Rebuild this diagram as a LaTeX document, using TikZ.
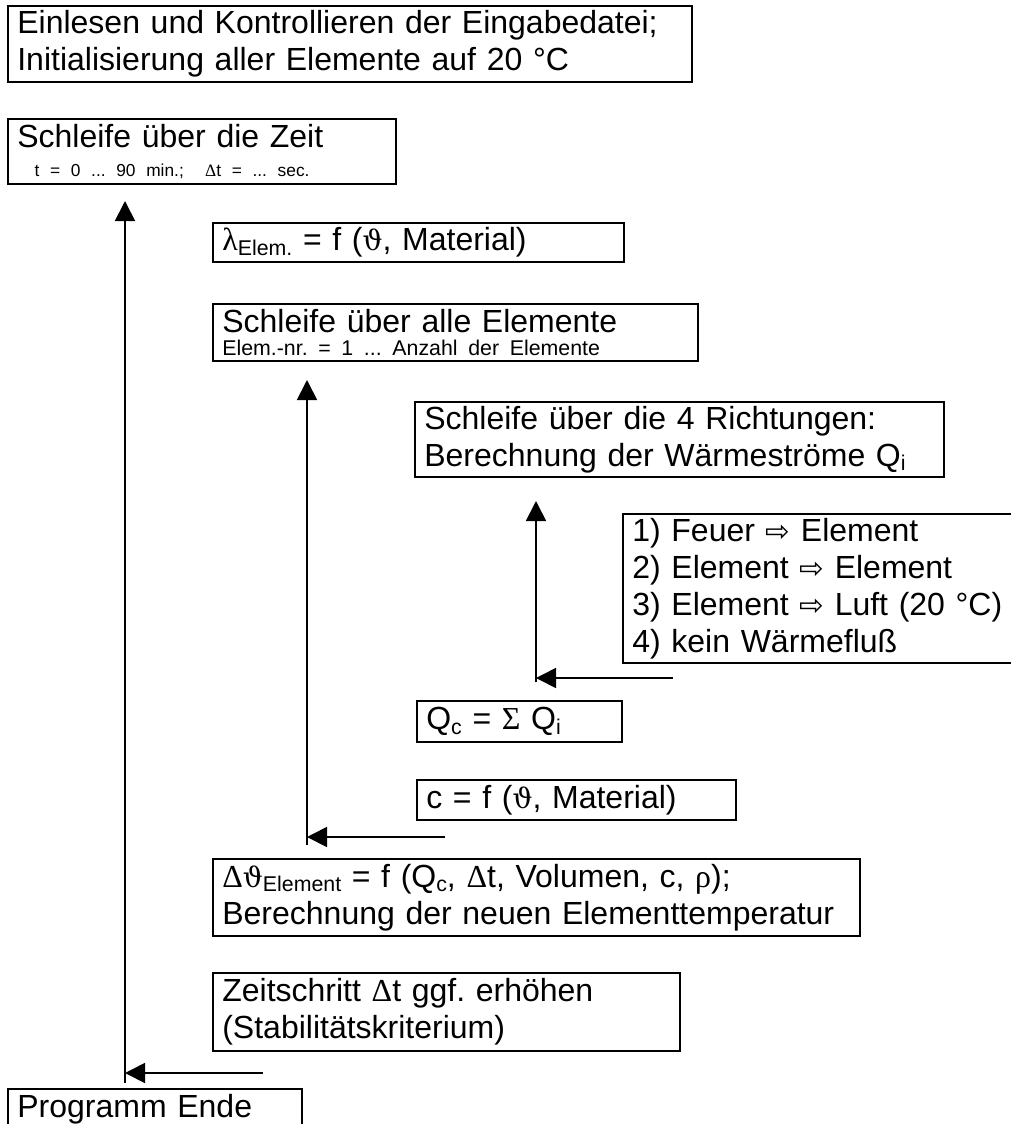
\documentclass[tikz,border=0pt]{standalone}
\usepackage{fontspec}
\setmainfont{Liberation Sans}
\newfontfamily\grfont{Liberation Serif}
\newfontfamily\thfont{DejaVu Serif}
\newfontfamily\arrfont{DejaVu Sans}
\usetikzlibrary{arrows.meta}
\frenchspacing
\newcommand\gk[1]{{\grfont #1}}
\newcommand\vth{{\thfont\fontsize{21}{21}\selectfont ϑ}}
\newcommand\wa{{\arrfont\fontsize{22}{22}\selectfont ⇨}}
\newcommand\lowtxt[1]{\raisebox{-0.14em}{\fontsize{16}{16}\selectfont #1}}
\newcommand\smalltxt{\fontsize{13}{16}\selectfont}
\newcommand\smallertxt{\fontsize{16}{18}\selectfont}
\begin{document}
\begin{tikzpicture}[x=0.75pt,y=-0.75pt,
  box/.style={draw, line width=1.3pt, anchor=north west, outer sep=0pt,
    inner xsep=7pt, inner ysep=0pt, align=left,
    font=\fontsize{24}{27.75}\selectfont\frenchspacing},
  arr/.style={line width=1.3pt, -{Triangle[length=15pt,width=15pt]}}]
\useasboundingbox (0,0) rectangle (1010,1124);

\node[box, text width=499pt, minimum height=57pt] (init) at (8,6)
  {Einlesen und Kontrollieren der Eingabedatei;\\Initialisierung aller Elemente auf 20 °C};
\node[box, text width=277pt, minimum height=48.75pt] (zeit) at (8,119)
  {Schleife über die Zeit\\[-6.5pt]{\smalltxt\hspace*{13pt}t = 0 ... 90 min.;\ \ \gk{Δ}t = ... sec.}};
\node[box, text width=294.25pt, minimum height=29.25pt] (lam) at (213,223)
  {\gk{λ}\lowtxt{Elem.} = f (\vth, Material)};
\node[box, text width=349.75pt, minimum height=42.75pt] (elem) at (213,304)
  {Schleife über alle Elemente\\[-10pt]{\smallertxt Elem.-nr. = 1 ... Anzahl der Elemente}};
\node[box, text width=382.75pt, minimum height=56.25pt] (dirs) at (415,402)
  {Schleife über die 4 Richtungen:\\Berechnung der Wärmeströme Q\lowtxt{i}};
\node[box, text width=301pt, minimum height=111.75pt] (list) at (623,514)
  {1) Feuer \wa{} Element\\2) Element \wa{} Element\\3) Element \wa{} Luft (20 °C)\\4) kein Wärmefluß};
\node[box, text width=139.75pt, minimum height=30.75pt] (qc) at (417,701)
  {Q\lowtxt{c} = \gk{Σ} Q\lowtxt{i}};
\node[box, text width=225.25pt, minimum height=30pt] (cf) at (417,780)
  {c = f (\vth, Material)};
\node[box, text width=471.25pt, minimum height=57.75pt] (dth) at (213,859)
  {\gk{Δ}\vth\lowtxt{Element} = f (Q\lowtxt{c}, \gk{Δ}t, Volumen, c, \gk{ρ});\\Berechnung der neuen Elementtemperatur};
\node[box, text width=336.25pt, minimum height=58.5pt] (zs) at (213,973)
  {Zeitschritt \gk{Δ}t ggf. erhöhen\\(Stabilitätskriterium)};
\node[box, text width=206.5pt, minimum height=30.75pt] (ende) at (8,1089)
  {Programm Ende};

\coordinate (v1b) at (125,1083); \coordinate (v1t) at (125,201);
\coordinate (h1s) at (263,1073); \coordinate (h1e) at (125,1073);
\coordinate (v2b) at (307,845);  \coordinate (v2t) at (307,380);
\coordinate (h2s) at (445,837);  \coordinate (h2e) at (307,837);
\coordinate (v3b) at (536,682);  \coordinate (v3t) at (536,501);
\coordinate (h3s) at (673,678);  \coordinate (h3e) at (536,678);

\draw[arr] (v1b) -- (v1t);
\draw[arr] (h1s) -- (h1e);
\draw[arr] (v2b) -- (v2t);
\draw[arr] (h2s) -- (h2e);
\draw[arr] (v3b) -- (v3t);
\draw[arr] (h3s) -- (h3e);
\end{tikzpicture}
\end{document}
